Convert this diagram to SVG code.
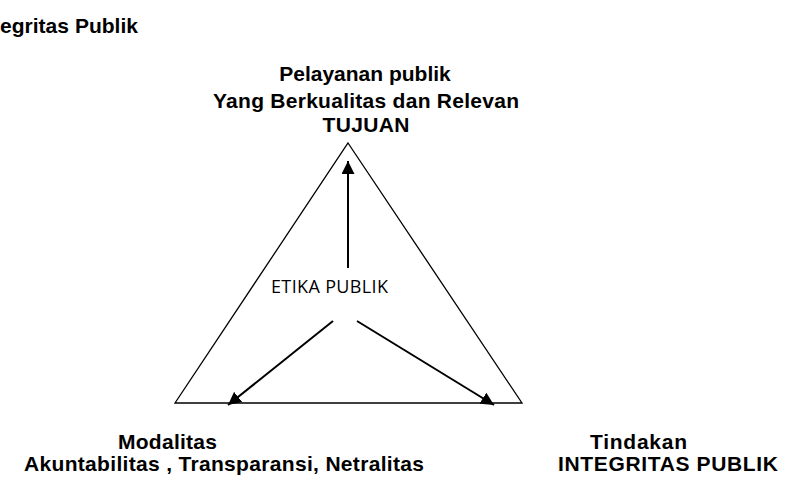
<svg xmlns="http://www.w3.org/2000/svg" width="788" height="490" viewBox="0 0 788 490">
  <style>
    .b { font-family: "Liberation Sans", Arial, sans-serif; font-weight: bold; fill: #000; }
    .t21 { font-size: 21px; }
    .c { font-family: "Open Sans", "Liberation Sans", sans-serif; font-size: 18px; fill: #000; }
    .conn { stroke: #000; stroke-width: 2; fill: none; }
    .tri { stroke: #000; stroke-width: 1.3; fill: none; }
  </style>
  <defs>
    <marker id="ah" viewBox="0 0 13 13" refX="13" refY="6.5" markerWidth="13" markerHeight="13" markerUnits="userSpaceOnUse" orient="auto">
      <path d="M0,0 L13,6.5 L0,13 z" fill="#000"/>
    </marker>
  </defs>
  <rect width="788" height="490" fill="#fff"/>

  <g id="title">
    <text class="b t21" x="0" y="33" textLength="138">egritas Publik</text>
  </g>

  <g id="triangle">
    <polygon class="tri" points="348,143 522,403 175,403"/>
  </g>

  <g id="node-tujuan">
    <text class="b t21" x="365" y="81" text-anchor="middle">Pelayanan publik</text>
    <text class="b t21" x="366" y="108" text-anchor="middle" textLength="306">Yang Berkualitas dan Relevan</text>
    <text class="b t21" x="366" y="132" text-anchor="middle" textLength="87">TUJUAN</text>
  </g>

  <g id="node-etika">
    <text class="c" x="271" y="293" textLength="117">ETIKA PUBLIK</text>
  </g>

  <g id="node-modalitas">
    <text class="b t21" x="118" y="449" textLength="99">Modalitas</text>
    <text class="b t21" x="24" y="471" textLength="400">Akuntabilitas , Transparansi, Netralitas</text>
  </g>

  <g id="node-tindakan">
    <text class="b t21" x="590" y="449" textLength="97">Tindakan</text>
    <text class="b t21" x="558" y="471" textLength="220">INTEGRITAS PUBLIK</text>
  </g>

  <g id="connectors">
    <line class="conn" x1="348" y1="268" x2="348" y2="161" marker-end="url(#ah)"/>
    <line class="conn" x1="333" y1="321" x2="228" y2="405" marker-end="url(#ah)"/>
    <line class="conn" x1="357" y1="321" x2="494" y2="405" marker-end="url(#ah)"/>
  </g>
</svg>
